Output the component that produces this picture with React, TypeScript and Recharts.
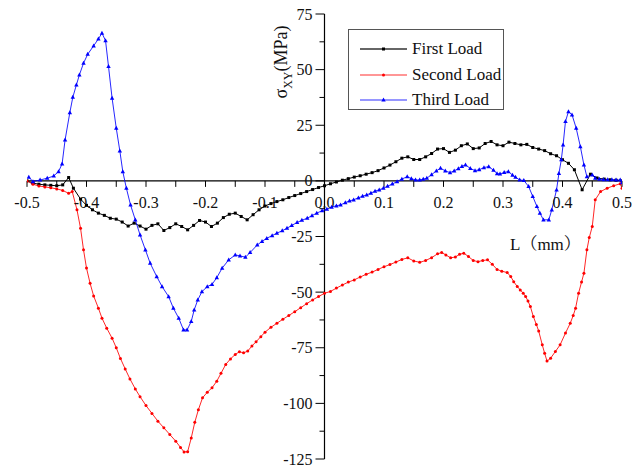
import React from 'react';
import { LineChart, Line, XAxis, YAxis, ReferenceLine, ReferenceDot, Legend } from 'recharts';

const FONT = '"Liberation Serif", "DejaVu Serif", serif';

const firstLoadL = [-0.5, -0.49, -0.48, -0.47, -0.46, -0.45, -0.44, -0.43, -0.422, -0.41, -0.4, -0.39, -0.38, -0.37, -0.36, -0.35, -0.34, -0.33, -0.32, -0.31, -0.3, -0.29, -0.28, -0.27, -0.26, -0.25, -0.24, -0.23, -0.22, -0.21, -0.2, -0.19, -0.18, -0.17, -0.16, -0.15, -0.14, -0.13, -0.12, -0.11, -0.1, -0.09, -0.08, -0.07, -0.06, -0.05, -0.04, -0.03, -0.02, -0.01, 0, 0.01, 0.02, 0.03, 0.04, 0.05, 0.06, 0.07, 0.08, 0.09, 0.1, 0.11, 0.12, 0.13, 0.14, 0.15, 0.16, 0.17, 0.18, 0.19, 0.2, 0.21, 0.22, 0.23, 0.24, 0.25, 0.26, 0.27, 0.28, 0.29, 0.3, 0.31, 0.32, 0.33, 0.34, 0.35, 0.36, 0.37, 0.38, 0.39, 0.4, 0.41, 0.42, 0.433, 0.447, 0.458, 0.47, 0.48, 0.49, 0.5];
const firstLoadS = [0, -1.0, -1.5, -1.8, -2.0, -2.2, -1.8, 1.5, -3.3, -8.2, -11.0, -13.0, -14.5, -15.5, -16.8, -17.2, -18.5, -20.3, -19.0, -20.3, -21.7, -20.0, -19.3, -22.3, -21.0, -19.3, -20.5, -22.0, -20.0, -17.8, -18.5, -20.5, -19.0, -16.5, -15.0, -14.5, -16.0, -17.5, -15.2, -13.0, -11.3, -10.2, -9.3, -8.5, -7.5, -6.6, -5.7, -4.8, -3.9, -3.0, -2.2, -1.3, -0.5, 0.3, 1.0, 1.7, 2.3, 3.0, 3.7, 4.6, 5.8, 7.1, 8.6, 10.2, 10.8, 9.6, 9.6, 10.8, 12.3, 14.3, 14.5, 12.8, 13.8, 15.8, 16.6, 14.5, 14.8, 16.8, 17.7, 16.2, 15.8, 17.4, 16.8, 16.2, 16.4, 15.0, 14.3, 13.6, 12.2, 11.3, 9.5, 7.9, 5.0, -4.0, 3.0, 1.3, 0.8, 0.5, 0.3, 0];

const secondLoadL = [-0.5, -0.49, -0.48, -0.47, -0.46, -0.45, -0.44, -0.43, -0.424, -0.416, -0.41, -0.405, -0.4, -0.394, -0.388, -0.38, -0.374, -0.366, -0.357, -0.35, -0.343, -0.335, -0.327, -0.318, -0.31, -0.3, -0.29, -0.28, -0.27, -0.26, -0.25, -0.242, -0.236, -0.23, -0.224, -0.218, -0.212, -0.205, -0.197, -0.189, -0.181, -0.174, -0.166, -0.158, -0.15, -0.143, -0.136, -0.129, -0.122, -0.115, -0.107, -0.1, -0.09, -0.08, -0.07, -0.06, -0.05, -0.04, -0.03, -0.02, -0.01, 0, 0.01, 0.02, 0.03, 0.04, 0.05, 0.06, 0.07, 0.08, 0.09, 0.1, 0.11, 0.12, 0.13, 0.14, 0.15, 0.16, 0.17, 0.18, 0.19, 0.197, 0.204, 0.212, 0.22, 0.227, 0.234, 0.242, 0.25, 0.258, 0.266, 0.274, 0.282, 0.29, 0.298, 0.307, 0.313, 0.318, 0.324, 0.329, 0.334, 0.338, 0.342, 0.346, 0.351, 0.356, 0.36, 0.366, 0.37, 0.374, 0.38, 0.388, 0.396, 0.405, 0.413, 0.418, 0.422, 0.427, 0.432, 0.436, 0.441, 0.445, 0.45, 0.455, 0.464, 0.475, 0.486, 0.497, 0.5];
const secondLoadS = [0, -1.5, -2.3, -2.7, -3.1, -3.6, -4.3, -5.6, -4.8, -13, -21.3, -31, -39.2, -46, -51.7, -57.2, -61.7, -66.2, -70.7, -75, -79.8, -84.5, -89, -93.5, -97, -101, -104.5, -108, -111, -114, -117, -119.8, -121.8, -121.7, -115.6, -108.5, -102.9, -97.5, -95, -93, -90, -86.5, -82.5, -80, -78, -76.8, -77.3, -76.5, -74.2, -72.3, -70, -68, -65.8, -64, -62.2, -60.5, -58.8, -57, -55.2, -53.5, -52, -50.5, -49.7, -48.2, -46.8, -45.5, -44.5, -43.2, -42, -41, -39.8, -38.6, -37.6, -36.5, -35.3, -34.6, -36, -36.6, -35.8, -34.5, -32.8, -32.2, -33.3, -34.6, -34.2, -33, -32.5, -34, -35.8, -36.3, -35.8, -35.5, -37.5, -39.8, -40.6, -41.2, -43, -45.3, -47.5, -49, -50.5, -52, -54, -56.5, -61, -64.5, -67.5, -73.7, -77.5, -81, -79.7, -76.7, -73.7, -68.4, -64, -60.5, -57.2, -50.5, -45.5, -41.5, -31, -25.5, -20.5, -8.5, -4.8, -3.3, -2.2, -1.3, -3.3];

const thirdLoadL = [-0.497, -0.49, -0.478, -0.466, -0.455, -0.447, -0.441, -0.436, -0.428, -0.423, -0.417, -0.412, -0.405, -0.398, -0.388, -0.38, -0.374, -0.368, -0.363, -0.357, -0.35, -0.344, -0.339, -0.333, -0.326, -0.318, -0.31, -0.301, -0.293, -0.282, -0.273, -0.262, -0.254, -0.245, -0.237, -0.231, -0.224, -0.219, -0.213, -0.206, -0.197, -0.189, -0.181, -0.172, -0.161, -0.15, -0.142, -0.133, -0.125, -0.113, -0.105, -0.097, -0.088, -0.08, -0.071, -0.063, -0.055, -0.046, -0.038, -0.029, -0.021, -0.013, -0.004, 0.004, 0.012, 0.02, 0.027, 0.035, 0.042, 0.049, 0.057, 0.064, 0.071, 0.078, 0.085, 0.092, 0.099, 0.106, 0.114, 0.122, 0.13, 0.139, 0.146, 0.153, 0.16, 0.166, 0.172, 0.18, 0.188, 0.195, 0.203, 0.211, 0.218, 0.225, 0.231, 0.237, 0.245, 0.253, 0.26, 0.268, 0.276, 0.284, 0.29, 0.295, 0.302, 0.309, 0.316, 0.321, 0.328, 0.335, 0.343, 0.35, 0.357, 0.362, 0.368, 0.377, 0.382, 0.39, 0.394, 0.398, 0.401, 0.405, 0.41, 0.416, 0.423, 0.43, 0.436, 0.441, 0.45, 0.455, 0.462, 0.469, 0.476, 0.483, 0.49, 0.497, 0.5];
const thirdLoadS = [1.7, -0.3, 0.4, 1.2, 2.2, 4.2, 7.6, 18.4, 30.7, 37.6, 43.1, 47.6, 52.9, 56.9, 60.7, 63.8, 66.4, 63, 51.4, 37.2, 23.7, 13.5, 4.2, -3.3, -10.8, -17.5, -24.3, -31, -37, -43, -47.5, -52, -57.2, -61.7, -67, -67, -63.2, -58, -53.5, -49.8, -47.5, -46.5, -43.5, -39.2, -35.5, -33.3, -33.7, -34.3, -32.2, -28.8, -27.2, -25.8, -24.6, -23.5, -22.4, -21.3, -20, -18.7, -17.7, -16.8, -15.6, -14.5, -13.4, -12.7, -11.8, -11.2, -10.8, -9.8, -9.0, -8.5, -7.6, -6.9, -6.3, -5.5, -4.6, -4.0, -3.3, -2.4, -1.4, -0.3, 0.8, 1.9, 1.0, 0.4, 0.4, 0.8, 1.2, 2.8, 4.5, 5.7, 4.5, 3.7, 4.5, 5.5, 6.5, 7.2, 5.6, 4.6, 5.0, 6.0, 6.4, 4.8, 3.3, 3.1, 3.8, 4.2, 2.6, 1.7, 0.4, 0.2, -2.5, -7, -11.5, -14.5, -17.5, -17.5, -13, -4, 3.4, 9.5, 16.2, 26.7, 31.1, 29.7, 23.7, 15.4, 7.2, 1.9, 2.7, 1.2, 0.8, 0.6, 0.5, 0.5, 0.4, 0.4, -0.8];

const xTickValues = [-0.5, -0.45, -0.4, -0.35, -0.3, -0.25, -0.2, -0.15, -0.1, -0.05, 0, 0.05, 0.1, 0.15, 0.2, 0.25, 0.3, 0.35, 0.4, 0.45, 0.5];
const xTickLabels = ['-0.5', '', '-0.4', '', '-0.3', '', '-0.2', '', '-0.1', '', '0.0', '', '0.1', '', '0.2', '', '0.3', '', '0.4', '', '0.5'];
const yTickValues = [75, 62.5, 50, 37.5, 25, 12.5, 0, -12.5, -25, -37.5, -50, -62.5, -75, -87.5, -100, -112.5, -125];
const yTickLabels = ['75', '', '50', '', '25', '', '0', '', '-25', '', '-50', '', '-75', '', '-100', '', '-125'];

const seriesNames = ['First Load', 'Second Load', 'Third Load'];
const seriesColors = ['#000000', '#ff0000', '#0000ff'];

const toRows = (L: number[], S: number[]) => L.map((l, i) => ({ L: l, S: S[i] }));

const SquareDot = (p: any) => {
  const { cx, cy, index } = p;
  if (cx == null || cy == null) return <g key={index} />;
  return <rect key={index} x={cx - 1.5} y={cy - 1.5} width={3} height={3} fill="#000" />;
};
const RoundDot = (p: any) => {
  const { cx, cy, index } = p;
  if (cx == null || cy == null) return <g key={index} />;
  return <circle key={index} cx={cx} cy={cy} r={1.5} fill="#ff0000" />;
};
const TriDot = (p: any) => {
  const { cx, cy, index } = p;
  if (cx == null || cy == null) return <g key={index} />;
  return <polygon key={index} points={`${cx},${cy - 2.4} ${cx - 2.2},${cy + 1.6} ${cx + 2.2},${cy + 1.6}`} fill="#0000ff" />;
};

const markerFor = (i: number, cx: number, cy: number) => {
  if (i === 0) return <rect x={cx - 1.5} y={cy - 1.5} width={3} height={3} fill="#000" />;
  if (i === 1) return <circle cx={cx} cy={cy} r={1.5} fill="#ff0000" />;
  return <polygon points={`${cx},${cy - 2.4} ${cx - 2.2},${cy + 1.6} ${cx + 2.2},${cy + 1.6}`} fill="#0000ff" />;
};

const LegendBox = () => (
  <div style={{ width: 156, height: 81, border: '1px solid #555', boxSizing: 'border-box', background: '#fff', position: 'relative', fontFamily: FONT }}>
    {seriesNames.map((name, i) => (
      <div key={name} style={{ position: 'absolute', left: 0, top: 7 + i * 25.5, height: 24, width: 156 }}>
        <svg width={60} height={24} style={{ position: 'absolute', left: 0, top: 0 }}>
          <line x1={11} y1={12} x2={58} y2={12} stroke={seriesColors[i]} strokeWidth={1.4} strokeOpacity={i === 0 ? 0.8 : 0.55} />
          {markerFor(i, 34.5, 12)}
        </svg>
        <span style={{ position: 'absolute', left: 63, top: 1, fontSize: 17, lineHeight: '22px', color: '#111', whiteSpace: 'nowrap' }}>{name}</span>
      </div>
    ))}
  </div>
);

const XTickShape = (p: any) => {
  const { cx, cy, text } = p;
  return (
    <g>
      <line x1={cx} y1={cy} x2={cx} y2={cy + 6} stroke="#000" strokeWidth={1} />
      {text ? (
        <text x={cx} y={cy + 27} textAnchor="middle" style={{ fontFamily: FONT }} fontSize={16} fill="#111">{text}</text>
      ) : null}
    </g>
  );
};

const YTickShape = (p: any) => {
  const { cx, cy, text } = p;
  const len = text ? 9 : 5;
  return (
    <g>
      <line x1={cx - len} y1={cy} x2={cx} y2={cy} stroke="#000" strokeWidth={1} />
      {text ? (
        <text x={cx - 12} y={cy + 5.5} textAnchor="end" style={{ fontFamily: FONT }} fontSize={16} fill="#111">{text}</text>
      ) : null}
    </g>
  );
};

export default function App() {
  const rows1 = toRows(firstLoadL, firstLoadS);
  const rows2 = toRows(secondLoadL, secondLoadS);
  const rows3 = toRows(thirdLoadL, thirdLoadS);
  return (
    <div style={{ position: 'absolute', left: 0, top: 0, width: 636, height: 470, background: '#fff' }}>
      <LineChart width={636} height={470} margin={{ top: 14, right: 14, bottom: 11, left: 27 }}>
        <XAxis type="number" dataKey="L" domain={[-0.5, 0.5]} hide allowDataOverflow />
        <YAxis type="number" domain={[-125, 75]} hide allowDataOverflow />
        <ReferenceLine y={0} stroke="#000" strokeWidth={1.2} />
        <ReferenceLine x={0} stroke="#000" strokeWidth={1.2} />
        {xTickValues.map((v, i) => (
          <ReferenceDot key={'xt' + i} x={v} y={0} r={0} ifOverflow="visible" shape={(p: any) => <XTickShape {...p} text={xTickLabels[i]} />} />
        ))}
        {yTickValues.map((v, i) => (
          <ReferenceDot key={'yt' + i} x={0} y={v} r={0} ifOverflow="visible" shape={(p: any) => <YTickShape {...p} text={yTickLabels[i]} />} />
        ))}
        <Line data={rows1} dataKey="S" name={seriesNames[0]} stroke={seriesColors[0]} strokeWidth={1} dot={SquareDot} activeDot={false} isAnimationActive={false} />
        <Line data={rows2} dataKey="S" name={seriesNames[1]} stroke={seriesColors[1]} strokeWidth={1} strokeOpacity={0.85} dot={RoundDot} activeDot={false} isAnimationActive={false} />
        <Line data={rows3} dataKey="S" name={seriesNames[2]} stroke={seriesColors[2]} strokeWidth={1} strokeOpacity={0.85} dot={TriDot} activeDot={false} isAnimationActive={false} />
        <Legend content={<LegendBox />} layout="horizontal" verticalAlign="middle" align="center" wrapperStyle={{ position: 'absolute', left: 348, top: 29, width: 156, height: 81 }} />
        <text transform="translate(287,62) rotate(-90)" textAnchor="middle" style={{ fontFamily: FONT }} fontSize={18} fill="#111">
          σ<tspan fontSize={12} dy={5}>XY</tspan><tspan dy={-5}>(MPa)</tspan>
        </text>
        <text x={510} y={250} style={{ fontFamily: '"Liberation Serif", "Noto Serif CJK SC", "Noto Sans CJK SC", serif' }} fontSize={17} fill="#111">L（mm）</text>
      </LineChart>
    </div>
  );
}
